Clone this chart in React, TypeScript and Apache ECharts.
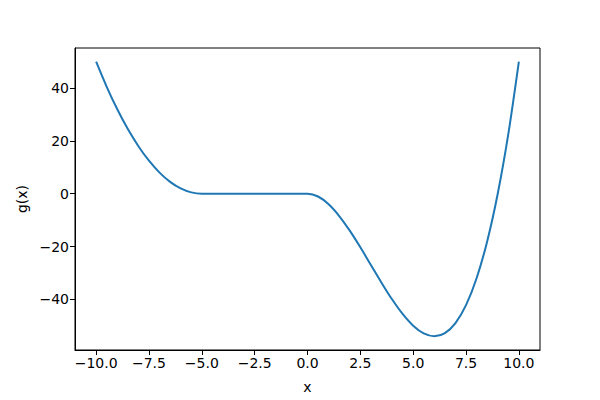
import React, { useEffect, useRef } from "react";
import * as echarts from "echarts";

const xValues = [
  -10, -9.5, -9, -8.5, -8, -7.5, -7, -6.5, -6, -5.5, -5, -4.5, -4, -3.5, -3, -2.5, -2, -1.5, -1, -0.5,
  0, 0.5, 1, 1.5, 2, 2.5, 3, 3.5, 4, 4.5, 5, 5.5, 6, 6.5, 7, 7.5, 8, 8.5, 9, 9.5, 10,
];
const gValues = [
  50, 40.5, 32, 24.5, 18, 12.5, 8, 4.5, 2, 0.5, 0, 0, 0, 0, 0, 0, 0, 0, 0, 0,
  0, -1.06, -4, -8.44, -14, -20.31, -27, -33.69, -40, -45.56, -50, -52.94, -54, -52.81, -49, -42.19, -32, -18.06, 0, 22.56, 50,
];
const xTicks = [-10, -7.5, -5, -2.5, 0, 2.5, 5, 7.5, 10];
const yTicks = [-40, -20, 0, 20, 40];

const FONT = "DejaVu Sans";
const fmtX = (v: number) => v.toFixed(1).replace("-", "\u2212");
const fmtY = (v: number) => String(v).replace("-", "\u2212");

export default function App() {
  const ref = useRef<HTMLDivElement>(null);
  useEffect(() => {
    if (!ref.current) return;
    const chart = echarts.init(ref.current, null, { renderer: "svg" });
    chart.setOption({
      animation: false,
      backgroundColor: "#ffffff",
      grid: {
        left: 75,
        right: 60,
        top: 48,
        bottom: 50,
        show: true,
        borderColor: "#000",
        borderWidth: 1,
        backgroundColor: "transparent",
      },
      xAxis: {
        type: "value",
        min: -11,
        max: 11,
        name: "x",
        nameLocation: "middle",
        nameGap: 30,
        nameTextStyle: { fontFamily: FONT, fontSize: 14, color: "#000" },
        splitLine: { show: false },
        axisLine: { show: true, onZero: false, lineStyle: { color: "#000", width: 1 } },
        axisTick: { show: true, length: 5, customValues: xTicks, lineStyle: { color: "#000" } },
        axisLabel: {
          customValues: xTicks,
          formatter: fmtX,
          fontFamily: FONT,
          fontSize: 14,
          color: "#000",
          margin: 6,
        },
      },
      yAxis: {
        type: "value",
        min: -59.2,
        max: 55.2,
        name: "g(x)",
        nameLocation: "middle",
        nameGap: 41,
        nameTextStyle: { fontFamily: FONT, fontSize: 14, color: "#000" },
        splitLine: { show: false },
        axisLine: { show: true, onZero: false, lineStyle: { color: "#000", width: 1 } },
        axisTick: { show: true, length: 5, customValues: yTicks, lineStyle: { color: "#000" } },
        axisLabel: {
          customValues: yTicks,
          formatter: fmtY,
          fontFamily: FONT,
          fontSize: 14,
          color: "#000",
          margin: 6,
        },
      },
      series: [
        {
          type: "line",
          data: xValues.map((x, i) => [x, gValues[i]]),
          showSymbol: false,
          smooth: 0.3,
          lineStyle: { color: "#1f77b4", width: 2 },
        },
      ],
    });
    return () => chart.dispose();
  }, []);
  return <div ref={ref} style={{ width: 600, height: 400, position: "absolute", left: 0, top: 0 }} />;
}
